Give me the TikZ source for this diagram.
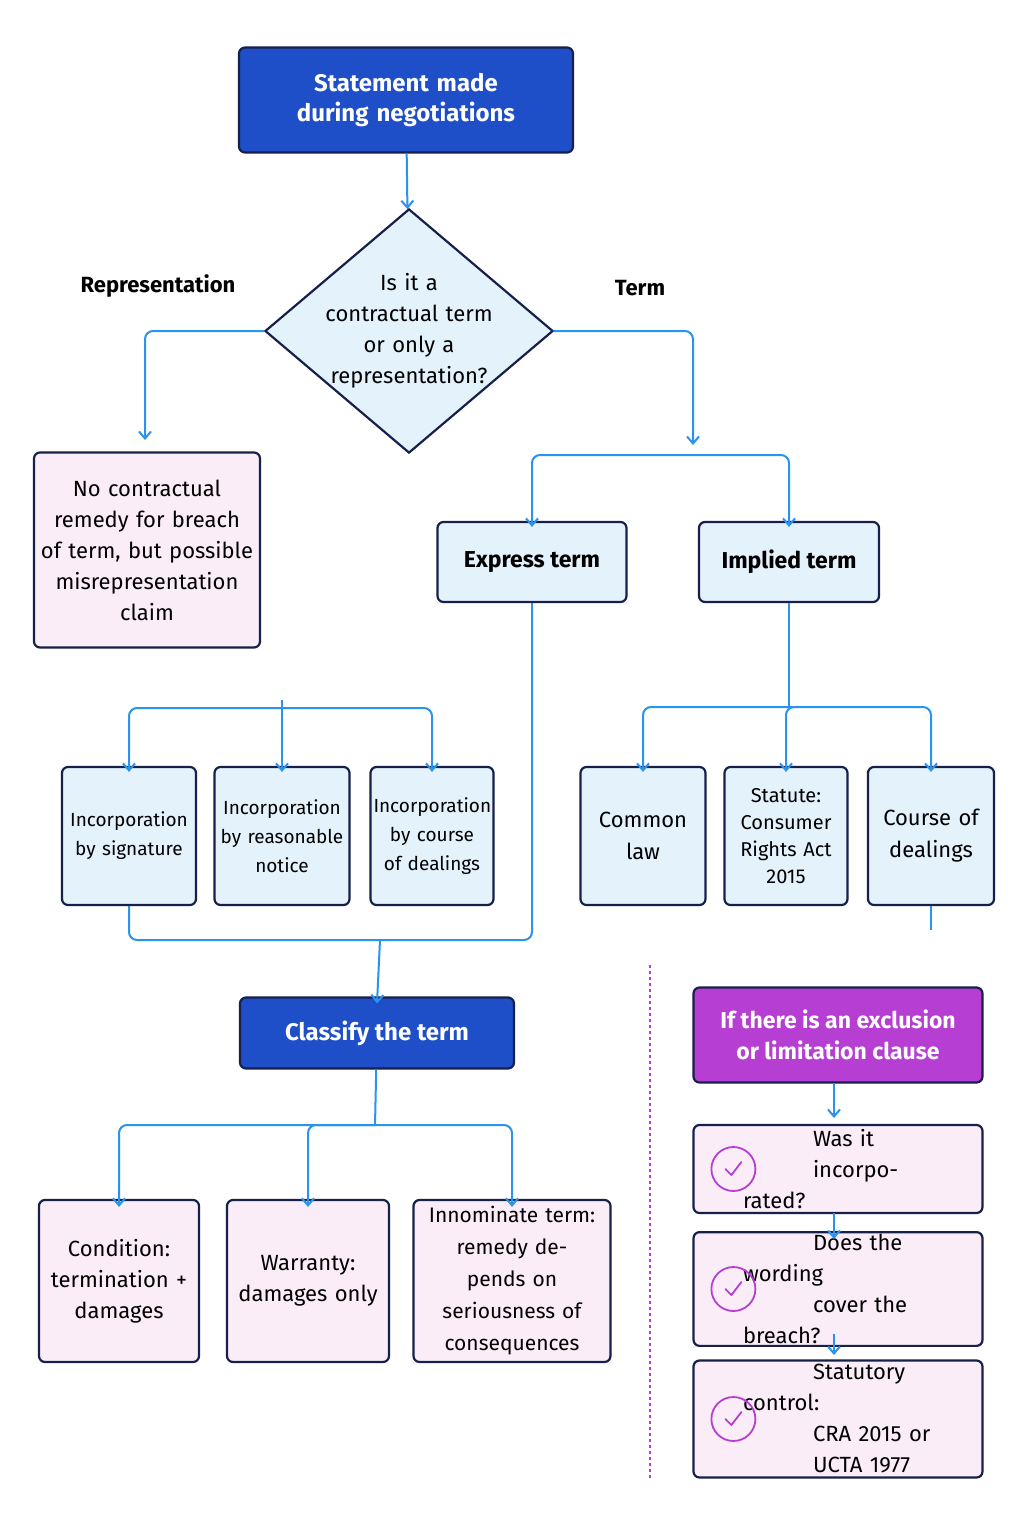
\documentclass[tikz,border=0pt]{standalone}
\usepackage{fontspec}
\setmainfont{Fira Sans}
\usetikzlibrary{shapes.geometric,arrows.meta,positioning}

\definecolor{darkblue}{HTML}{1E4FC8}
\definecolor{navy}{HTML}{16204A}
\definecolor{paleblue}{HTML}{E4F2FC}
\definecolor{palepink}{HTML}{FBEDF8}
\definecolor{linkblue}{HTML}{2A93EE}
\definecolor{violet}{HTML}{B63ED2}

\tikzset{
  box/.style = {draw = navy, line width = 2.2pt, rounded corners = 6pt, align = center,
                minimum height = #1, inner sep = 2pt},
  box/.default = 80pt,
  headbox/.style = {box = #1, fill = darkblue, text = white, font = \fontsize{24}{30}\selectfont\bfseries},
  bluebox/.style = {box = #1, fill = paleblue, font = \fontsize{22}{30}\selectfont},
  pinkbox/.style = {box = #1, fill = palepink, font = \fontsize{22}{31}\selectfont},
  link/.style = {draw = linkblue, line width = 2pt, rounded corners = 8pt},
  arr/.style = {link, -{Straight Barb[length = 7pt, width = 12pt]}},
  tick/.style = {circle, draw = violet, line width = 1.8pt, minimum size = 44pt}
}

\begin{document}
\begin{tikzpicture}[x = 1pt, y = -1pt]
  \useasboundingbox[fill = white] (0, 0) rectangle (1024, 1536);

  % question and answer
  \node[headbox = 105pt, text width = 330pt] (stmt) at (406, 100) {Statement made\\during negotiations};
  \node[diamond, draw = navy, line width = 2.2pt, fill = paleblue, aspect = 1.18, inner sep = -4pt,
        align = center, font = \fontsize{22}{31}\selectfont, text width = 170pt] (ask) at (409, 331)
        {Is it a\\contractual term\\or only a\\representation?};
  \node[font = \fontsize{22}{26}\selectfont\bfseries] (rep) at (158, 286) {Representation};
  \node[font = \fontsize{22}{26}\selectfont\bfseries] (trm) at (640, 288) {Term};
  \node[pinkbox = 195pt, minimum width = 226pt, text width = 220pt] (norem) at (147, 550)
        {No contractual\\remedy for breach\\of term, but possible\\misrepresentation\\claim};

  \node[bluebox = 80pt, minimum width = 189pt, font = \fontsize{23}{28}\selectfont\bfseries] (expr) at (532, 562) {Express term};
  \node[bluebox = 80pt, minimum width = 180pt, font = \fontsize{23}{28}\selectfont\bfseries] (impl) at (789, 562) {Implied term};

  % incorporation and implication
  \begin{scope}[every node/.append style = {bluebox = 138pt, font = \fontsize{19}{29}\selectfont}]
    \node[minimum width = 134pt, text width = 128pt] (sig) at (129, 836) {Incorporation\\by signature\\[30pt]};
    \node[minimum width = 135pt, text width = 129pt] (note) at (282, 836) {Incorporation\\by reasonable\\notice};
    \node[minimum width = 123pt, text width = 117pt] (deal) at (432, 836) {Incorporation\\by course\\of dealings};
    \node[minimum width = 125pt, text width = 119pt, font = \fontsize{22}{32}\selectfont] (comm) at (643, 836) {Common\\law\\[10pt]};
    \node[minimum width = 123pt, text width = 117pt, font = \fontsize{20}{27}\selectfont] (stat) at (786, 836) {Statute:\\Consumer\\Rights Act\\2015};
    \node[minimum width = 126pt, text width = 120pt, font = \fontsize{22}{32}\selectfont] (cour) at (931, 836) {Course of\\dealings\\[10pt]};
  \end{scope}

  % classification
  \node[headbox = 71pt, minimum width = 274pt] (clas) at (377, 1033) {Classify the term};
  \node[pinkbox = 162pt, minimum width = 160pt, text width = 154pt] (cond) at (119, 1281) {Condition:\\termination +\\damages};
  \node[pinkbox = 162pt, minimum width = 162pt, text width = 156pt] (warr) at (308, 1281) {Warranty:\\damages only};
  \node[pinkbox = 162pt, minimum width = 197pt, text width = 191pt, font = \fontsize{21}{32}\selectfont] (inno) at (512, 1281)
        {Innominate term:\\remedy depends on\\seriousness of\\consequences};

  % exclusion clauses
  \draw[violet, line width = 1.8pt, dashed] (650, 965) -- (650, 1480);
  \node[box = 95pt, minimum width = 289pt, fill = violet, text = white, font = \fontsize{23}{31}\selectfont\bfseries] (excl) at (838, 1035)
        {If there is an exclusion\\or limitation clause};
  \begin{scope}[every node/.append style = {pinkbox = 88pt, minimum width = 289pt, text width = 190pt, align = left}]
    \node (qinc) at (838, 1169) {\hspace*{70pt}Was it\\\hspace*{70pt}incorporated?};
    \node (qwrd) at (838, 1289) {\hspace*{70pt}Does the wording\\\hspace*{70pt}cover the breach?};
    \node[minimum height = 117pt] (qsta) at (838, 1419) {\hspace*{70pt}Statutory control:\\\hspace*{70pt}CRA 2015 or\\\hspace*{70pt}UCTA 1977};
  \end{scope}
  \foreach \q in {qinc, qwrd, qsta} {
    \node[tick, xshift = 41pt] (t\q) at (\q.west) {};
    \draw[violet, line width = 1.8pt, line cap = round, line join = round]
      ([shift = {(-8, 0)}]t\q.center) -- ([shift = {(-2, 6)}]t\q.center) -- ([shift = {(8, -7)}]t\q.center);
  }

  % connectors
  \draw[arr] (stmt) -- (ask);
  \draw[arr] (ask.west) -| (145, 440);
  \draw[arr] (ask.east) -| (693, 445);
  \coordinate (fork) at (660, 455);
  \draw[arr] (fork) -| ([yshift = -6pt]expr.north);
  \draw[arr] (fork) -| ([yshift = -6pt]impl.north);
  \draw[link] (impl) -- (789, 707);
  \foreach \b in {comm, stat, cour}
    \draw[arr] (789, 707) -| ([yshift = -6pt]\b.north);
  \foreach \b in {sig, note, deal}
    \draw[arr] (282, 708) -| ([yshift = -6pt]\b.north);
  \draw[link] (cour) -- (931, 930);
  \draw[link] (sig) |- (380, 940);
  \draw[link] (expr) |- (380, 940);
  \draw[arr] (380, 940) -- ([yshift = -7pt]clas.north);
  \draw[link] (clas) -- (375, 1125);
  \foreach \b in {cond, warr, inno}
    \draw[arr] (375, 1125) -| ([yshift = -8pt]\b.north);
  \draw[arr] (834, 1083) -- (834, 1118);
  \draw[arr] (834, 1213) -- (834, 1239);
  \draw[arr] (834, 1334) -- (834, 1355);
\end{tikzpicture}
\end{document}
